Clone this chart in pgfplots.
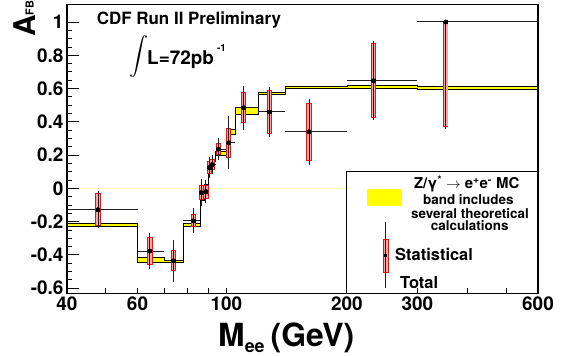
\documentclass[border=0pt]{standalone}
\usepackage{fontspec}
\setmainfont{TeX Gyre Heros}
\usepackage{pgfplots}
\usepackage{pgfplotstable}
\pgfplotsset{compat=1.18}
\usepgfplotslibrary{fillbetween}
\definecolor{statfill}{RGB}{248,165,165}
\definecolor{statred}{RGB}{230,20,20}
\definecolor{mcyellow}{RGB}{255,255,0}
\definecolor{zeroline}{RGB}{255,255,185}
\definecolor{olive2}{RGB}{200,200,130}
\definecolor{topgray}{RGB}{85,85,85}
\definecolor{barblack}{RGB}{30,30,30}

\pgfplotstableread{
m lo hi
40 -0.226 -0.208
60 -0.447 -0.415
70 -0.447 -0.430
78 -0.228 -0.212
86 -0.072 -0.058
88 0.013 0.027
90 0.093 0.107
92 0.163 0.177
94 0.200 0.222
100 0.327 0.352
105 0.445 0.488
120 0.565 0.575
140 0.601 0.611
200 0.601 0.621
300 0.595 0.613
600 0.595 0.613
}\mctab

\pgfplotstableread{
x y sp sm tp tm spi smi
47.8 -0.128 0.101 0.101 0.103 0.103 0.095 0.095
64.4 -0.377 0.084 0.084 0.097 0.097 0.078 0.078
73.8 -0.435 0.062 0.062 0.117 0.117 0.056 0.056
82.7 -0.195 0.040 0.040 0.065 0.065 0.034 0.034
86.6 -0.026 0.046 0.046 0.070 0.070 0.040 0.040
88.9 -0.019 0.042 0.042 0.060 0.060 0.036 0.036
90.7 0.125 0.038 0.038 0.055 0.055 0.032 0.032
92.2 0.143 0.035 0.035 0.050 0.050 0.029 0.029
95.5 0.235 0.035 0.035 0.057 0.057 0.029 0.029
101.3 0.274 0.089 0.089 0.151 0.151 0.083 0.083
110.4 0.485 0.094 0.094 0.123 0.123 0.088 0.088
128.0 0.459 0.134 0.134 0.138 0.138 0.128 0.128
160.9 0.340 0.176 0.176 0.187 0.187 0.170 0.170
233.0 0.647 0.226 0.226 0.228 0.228 0.220 0.220
353.0 1.000 0.000 0.633 0.000 0.633 -0.006 0.627
}\datatab

\begin{document}
\begin{tikzpicture}
\begin{axis}[
  at={(0,0)}, anchor=south west,
  scale only axis, width=471bp, height=288.8bp,
  xmode=log, xmin=40, xmax=600, ymin=-0.632, ymax=1.104,
  xtick={40,60,100,200,300,600}, xticklabels={40,60,100,200,300,600},
  minor xtick={50,60,70,80,90,100,200,300,400,500},
  major x tick style={draw=none},
  ytick={-0.6,-0.4,-0.2,0,0.2,0.4,0.6,0.8,1},
  yticklabels={-0.6,-0.4,-0.2,0,0.2,0.4,0.6,0.8,1},
  minor y tick num=3,
  tick align=inside, xtick pos=bottom, ytick pos=left,
  major tick length=11.7bp, minor tick length=5.5bp,
  tick style={black, line width=0.9bp},
  ticklabel style={font=\fontsize{19}{19}\selectfont\bfseries},
  axis line style={line width=1.1bp},
  axis on top,
  /pgf/number format/assume math mode=true,
]
% zero line
\draw[zeroline, line width=0.8bp] (axis cs:40,0) -- (axis cs:600,0);
% MC band
\addplot[name path=mclo, const plot, draw=none, forget plot] table[x=m,y=lo]{\mctab};
\addplot[name path=mchi, const plot, draw=none, forget plot] table[x=m,y=hi]{\mctab};
\addplot[mcyellow, forget plot] fill between[of=mchi and mclo];
\addplot[const plot, black, line width=0.7bp, forget plot] table[x=m,y=lo]{\mctab};
\addplot[const plot, black, line width=0.7bp, forget plot] table[x=m,y=hi]{\mctab};
% horizontal bin bars
\addplot[barblack, line width=1bp, unbounded coords=jump, forget plot] coordinates {
(40,-0.128) (60,-0.128) (60,nan)
(60,-0.377) (70,-0.377) (70,nan)
(70,-0.435) (78,-0.435) (78,nan)
(78,-0.195) (86,-0.195) (86,nan)
(86,-0.026) (88,-0.026) (88,nan)
(88,-0.019) (90,-0.019) (90,nan)
(90,0.125) (92,0.125) (92,nan)
(92,0.143) (94,0.143) (94,nan)
(94,0.235) (100,0.235) (100,nan)
(100,0.274) (105,0.274) (105,nan)
(105,0.485) (120,0.485) (120,nan)
(120,0.459) (140,0.459) (140,nan)
(140,0.340) (200,0.340) (200,nan)
(200,0.647) (300,0.647) (300,nan)
(300,1.000) (600,1.000)
};
% statistical boxes
\addplot[only marks, mark=none, forget plot,
  error bars/.cd, y dir=both, y explicit, error mark=none,
  error bar style={draw=statred, line width=5.4bp}]
  table[x=x, y=y, y error plus=sp, y error minus=sm]{\datatab};
\addplot[only marks, mark=none, forget plot,
  error bars/.cd, y dir=both, y explicit, error mark=none,
  error bar style={draw=statfill, line width=3.6bp}]
  table[x=x, y=y, y error plus=spi, y error minus=smi]{\datatab};
% total error bars
\addplot[only marks, mark=none, forget plot,
  error bars/.cd, y dir=both, y explicit, error mark=-,
  error bar style={draw=barblack, line width=0.8bp},
  error mark options={barblack, line width=0.9bp, mark size=1.6bp}]
  table[x=x, y=y, y error plus=tp, y error minus=tm]{\datatab};
% points
\addplot[only marks, mark=square*, mark size=1.4bp, black, forget plot] table[x=x,y=y]{\datatab};
% legend box
\draw[black, line width=0.9bp, fill=white] (axis cs:200,-0.632) rectangle (axis cs:600,0.103);
\end{axis}

% frame touches
\draw[topgray, line width=1.3bp] (0,288.8bp) -- (471bp,288.8bp);
\draw[olive2, line width=1.1bp] (471bp,122.3bp) -- (471bp,205bp);

% texts
\node[anchor=base west, inner sep=0] at (29.7bp,268.5bp) {\fontsize{17}{17}\selectfont\bfseries CDF Run II Preliminary};
\node[inner sep=0] at (72bp,232bp) {\scalebox{1.9}{$\displaystyle\smash{\int}$}};
\node[anchor=base west, inner sep=0] at (80bp,228.5bp) {\fontsize{19}{19}\selectfont\bfseries L=72pb\hspace{3bp}\raisebox{13bp}{\fontsize{10}{10}\selectfont -1}};
\node[rotate=90, anchor=base west, inner sep=0] at (-32bp,256.5bp) {\fontsize{30}{30}\selectfont\bfseries A\raisebox{1.5bp}{\fontsize{11}{11}\selectfont FB}};
\node[anchor=base west, inner sep=0] at (151bp,-53.2bp) {\fontsize{32}{32}\selectfont\bfseries M\raisebox{-5.5bp}{\fontsize{18}{18}\selectfont ee}\hspace{6bp}(GeV)};

% legend contents
\fill[mcyellow] (300bp,87.8bp) rectangle (334.7bp,104.5bp);
\node[anchor=base, inner sep=0] at (399.7bp,105.2bp) {\fontsize{15}{15}\selectfont\bfseries Z/γ\textsuperscript{*} $\rightarrow$ e\textsuperscript{+}e\textsuperscript{-} MC};
\node[anchor=base, inner sep=0] at (401.3bp,88.5bp) {\fontsize{13.5}{13.5}\selectfont\bfseries band includes};
\node[anchor=base, inner sep=0] at (403bp,75.2bp) {\fontsize{13.5}{13.5}\selectfont\bfseries several theoretical};
\node[anchor=base, inner sep=0] at (402.7bp,62.8bp) {\fontsize{13.5}{13.5}\selectfont\bfseries calculations};
\filldraw[fill=statfill, draw=statred, line width=0.9bp] (316.4bp,21.2bp) rectangle (321bp,54.5bp);
\draw[barblack, line width=0.8bp] (318.7bp,5.2bp) -- (318.7bp,71.2bp);
\fill[black] (317.3bp,36.8bp) rectangle (320.1bp,39.6bp);
\node[anchor=base west, inner sep=0] at (328bp,32.8bp) {\fontsize{16.5}{16.5}\selectfont\bfseries Statistical};
\node[anchor=base west, inner sep=0] at (333bp,5.2bp) {\fontsize{16.5}{16.5}\selectfont\bfseries Total};

\pgfresetboundingbox
\path[use as bounding box] (-67bp,-62.5bp) rectangle (499bp,293.5bp);
\end{tikzpicture}
\end{document}
